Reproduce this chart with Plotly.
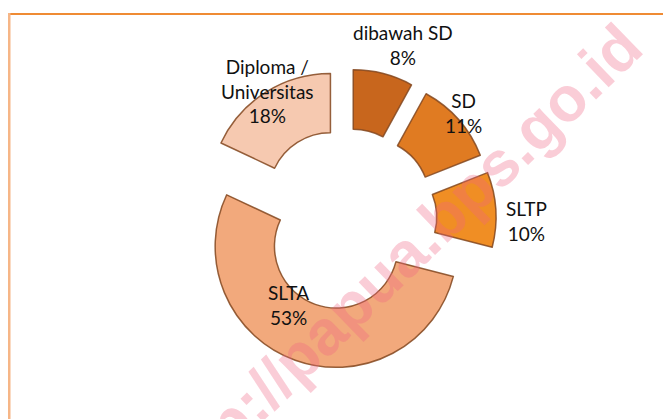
import plotly.graph_objects as go

# ---- data ----
categories = ["dibawah SD", "SD", "SLTP", "SLTA", "Diploma / Universitas"]
percent = [8, 11, 10, 53, 18]
colors = ["#C8661D", "#E07B22", "#F08E24", "#F2A97C", "#F6C9B0"]
watermark = "http://papua.bps.go.id"

# label anchor positions in figure pixels (style only)
label_px = [(395, 37), (455, 105), (518, 213), (280, 297), (259, 83)]

W, H = 663, 411
cx, cy, R = 338, 211, 121
pull = 0.24
half = R * (1 + pull)

fig = go.Figure()
fig.add_trace(go.Pie(
    labels=categories,
    values=percent,
    sort=False,
    direction="clockwise",
    rotation=0,
    hole=0.51,
    pull=[pull] * len(percent),
    marker=dict(colors=colors, line=dict(color="rgba(130,70,30,0.85)", width=1.5)),
    textinfo="none",
    hoverinfo="label+percent",
    showlegend=False,
    domain=dict(x=[(cx - half) / W, (cx + half) / W],
                y=[1 - (cy + half) / H, 1 - (cy - half) / H]),
))

annotations = []
for cat, val, (px, py) in zip(categories, percent, label_px):
    txt = cat.replace(" / ", " /<br>") + "<br>" + f"{val}%"
    annotations.append(dict(
        x=px / W, y=1 - py / H, xref="paper", yref="paper",
        text=txt, showarrow=False, xanchor="center", yanchor="middle",
        font=dict(family="Lato, Open Sans, sans-serif", size=19, color="#111111"),
        align="center",
    ))

# watermark
annotations.append(dict(
    x=386 / W, y=1 - 256 / H, xref="paper", yref="paper",
    text="<b>" + watermark + "</b>", showarrow=False,
    textangle=-44, xanchor="center", yanchor="middle",
    font=dict(family="Liberation Sans, Arial, sans-serif", size=63,
              color="rgba(240,100,130,0.32)"),
))

shapes = [
    dict(type="line", xref="paper", yref="paper", x0=0, x1=1, y0=1 - 6 / H, y1=1 - 6 / H,
         line=dict(color="#EF8B34", width=2)),
    dict(type="line", xref="paper", yref="paper", x0=1 / W, x1=1 / W, y0=0, y1=1 - 5 / H,
         line=dict(color="#F6B687", width=3)),
]

fig.update_layout(
    width=W, height=H,
    margin=dict(l=0, r=0, t=0, b=0),
    paper_bgcolor="white", plot_bgcolor="white",
    annotations=annotations, shapes=shapes,
)

fig.write_html("out.html")
